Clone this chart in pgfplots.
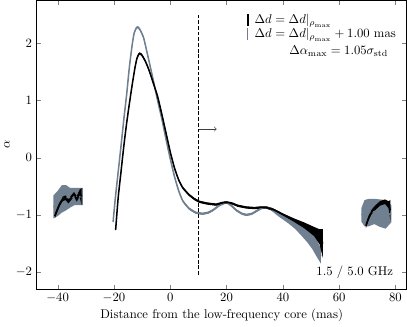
\documentclass[border=0pt]{standalone}
\usepackage{pgfplots}
\pgfplotsset{compat=1.18}
\usepackage{pgfplotstable}
\usepgfplotslibrary{fillbetween}

\definecolor{slate}{RGB}{112,128,144}

% black: main curve, x / y / half width of the error band
\pgfplotstableread{
x y e
-19.4 -1.26 0.02
-18.5 -0.70 0.02
-17.5 -0.25 0.02
-16.5 0.20 0.02
-15.5 0.60 0.02
-14.5 0.95 0.02
-13.5 1.28 0.02
-12.5 1.58 0.02
-11.8 1.74 0.02
-11.0 1.82 0.02
-10.2 1.80 0.02
-9.0 1.70 0.02
-7.7 1.55 0.02
-6.0 1.30 0.02
-4.5 1.07 0.02
-3.0 0.76 0.02
-1.5 0.43 0.02
0.0 0.10 0.02
1.5 -0.18 0.02
3.0 -0.39 0.02
4.5 -0.53 0.02
6.7 -0.65 0.02
8.5 -0.72 0.02
10.3 -0.77 0.02
13.0 -0.80 0.02
16.3 -0.82 0.02
18.5 -0.79 0.02
20.0 -0.78 0.02
22.0 -0.80 0.02
24.0 -0.84 0.02
27.0 -0.87 0.02
30.0 -0.88 0.02
32.0 -0.87 0.02
34.0 -0.87 0.02
36.7 -0.91 0.02
40.3 -1.00 0.02
43.9 -1.09 0.03
47.5 -1.18 0.05
51.1 -1.29 0.08
53.0 -1.38 0.13
54.2 -1.50 0.25
}\blackmain

\pgfplotstableread{
x y e
-41.0 -1.02 0.04
-40.2 -0.92 0.04
-39.2 -0.80 0.04
-38.2 -0.72 0.04
-37.2 -0.70 0.04
-36.2 -0.76 0.04
-35.2 -0.70 0.04
-34.2 -0.64 0.04
-33.2 -0.72 0.05
-32.2 -0.62 0.06
-31.5 -0.68 0.15
}\blackleft

\pgfplotstableread{
x y e
69.5 -1.19 0.04
70.5 -1.05 0.04
71.5 -0.95 0.04
72.7 -0.88 0.04
74.5 -0.80 0.04
76.3 -0.77 0.04
77.5 -0.82 0.06
78.2 -0.92 0.18
}\blackright

% grey: shifted curve
\pgfplotstableread{
x y e
-20.3 -1.12 0.02
-19.6 -0.75 0.02
-18.5 -0.25 0.02
-17.5 0.20 0.02
-16.4 0.71 0.02
-15.5 1.10 0.02
-14.5 1.59 0.02
-13.5 1.98 0.02
-12.8 2.18 0.02
-12.0 2.27 0.02
-11.5 2.28 0.02
-10.8 2.24 0.02
-9.5 2.10 0.02
-8.3 1.85 0.02
-7.1 1.59 0.02
-5.8 1.30 0.02
-4.5 1.00 0.02
-3.0 0.68 0.02
-1.5 0.32 0.02
0.0 -0.02 0.02
1.5 -0.33 0.02
3.0 -0.58 0.02
4.5 -0.76 0.02
6.7 -0.89 0.02
9.0 -0.96 0.02
11.5 -0.98 0.02
13.5 -0.96 0.02
15.1 -0.92 0.02
17.5 -0.83 0.02
19.9 -0.78 0.02
21.5 -0.83 0.02
23.5 -0.92 0.02
25.5 -0.98 0.02
27.1 -1.00 0.02
29.0 -0.98 0.02
30.7 -0.93 0.02
32.5 -0.88 0.02
34.3 -0.87 0.02
36.0 -0.90 0.03
38.0 -0.97 0.04
40.0 -1.03 0.05
42.0 -1.09 0.06
44.0 -1.16 0.07
46.0 -1.24 0.09
48.7 -1.36 0.12
50.5 -1.46 0.14
52.0 -1.58 0.15
53.5 -1.72 0.13
}\greymain

\pgfplotstableread{
x y e
-41.5 -0.86 0.20
-40.0 -0.80 0.22
-38.5 -0.72 0.24
-37.0 -0.70 0.22
-35.5 -0.70 0.17
-34.0 -0.68 0.15
-32.5 -0.68 0.15
-31.0 -0.68 0.15
}\greyleft

\pgfplotstableread{
x y e
67.9 -1.00 0.12
69.0 -0.97 0.23
70.5 -0.96 0.24
72.5 -0.94 0.22
74.5 -0.97 0.24
76.5 -0.99 0.25
78.5 -0.98 0.15
}\greyright

% band with a line through it
\newcommand{\errband}[3]{%
\addplot[name path=#3u, draw=none, forget plot] table[x=x, y expr=\thisrow{y}+\thisrow{e}] {#1};
\addplot[name path=#3d, draw=none, forget plot] table[x=x, y expr=\thisrow{y}-\thisrow{e}] {#1};
\addplot[fill=#2, draw=none, forget plot] fill between[of=#3u and #3d];
\addplot[#2, line width=1.2pt, smooth, tension=0.4, line join=round, forget plot] table[x=x, y=y] {#1};
}

\begin{document}
\begin{tikzpicture}
\begin{axis}[
  width=292pt, height=228pt, scale only axis,
  xmin=-47.5, xmax=84, ymin=-2.3, ymax=2.75,
  xtick={-40,-20,0,20,40,60,80}, ytick={-2,-1,0,1,2},
  tick align=inside, xtick pos=both, ytick pos=both,
  major tick length=3.5pt,
  xlabel={Distance from the low-frequency core (mas)},
  ylabel={$\alpha$},
  xlabel style={yshift=2pt},
  ylabel style={yshift=-2pt},
  legend style={at={(0.985,0.965)}, anchor=north east, draw=none, fill=none,
    row sep=0pt, nodes={inner sep=1pt}},
  legend cell align=left,
]
\addlegendimage{legend image code/.code={\path[draw=none] (0,0) -- (0.3cm,0); \draw[black, line width=1pt] (0.15cm,-0.16cm) -- (0.15cm,0.16cm);}}
\addlegendentry{$\Delta d = \Delta d|_{\rho_{\max}}$}
\addlegendimage{legend image code/.code={\path[draw=none] (0,0) -- (0.3cm,0); \draw[slate, line width=0.8pt] (0.15cm,-0.16cm) -- (0.15cm,0.16cm);}}
\addlegendentry{$\Delta d = \Delta d|_{\rho_{\max}} + 1.00$ mas}

\errband{\greyleft}{slate}{gl}
\errband{\greyright}{slate}{gr}
\errband{\greymain}{slate}{gm}
\errband{\blackleft}{black}{bl}
\errband{\blackright}{black}{br}
\errband{\blackmain}{black}{bm}

\addplot[black, dashed, line width=0.7pt, dash pattern=on 3pt off 1.5pt, forget plot] coordinates {(10,-2.05) (10,2.5)};
\draw[->, black!75, line width=0.5pt] (axis cs:10.3,0.5) -- (axis cs:16.5,0.5);

\node[anchor=base east, inner sep=0pt] at (axis cs:77.5,1.8) {$\Delta\alpha_{\max} = 1.05\sigma_{\mathrm{std}}$};
\node[anchor=base east, inner sep=0pt] at (axis cs:79.2,-2.06) {1.5 / 5.0 GHz};
\end{axis}
\end{tikzpicture}
\end{document}
